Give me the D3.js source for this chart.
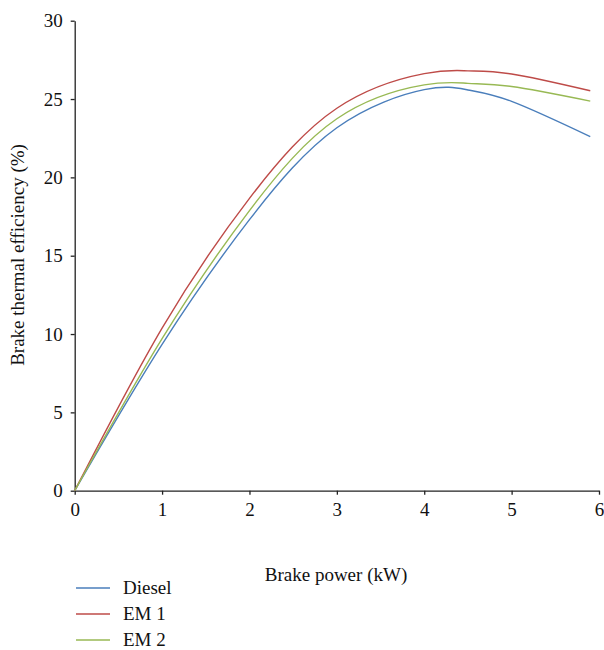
<!DOCTYPE html>
<html><head><meta charset="utf-8">
<script src="https://cdn.jsdelivr.net/npm/d3@7"></script>
<style>body{margin:0;background:#fff}svg{display:block}</style>
</head><body>
<svg id="c" width="604" height="650"></svg>
<script>
const powerKW = [0, 1, 2, 3, 4, 4.5, 5, 5.9];
const diesel = [0, 9.34, 17.3, 23.17, 25.6, 25.58, 24.85, 22.6];
const em1    = [0, 10.38, 18.66, 24.41, 26.62, 26.8, 26.6, 25.53];
const em2    = [0, 9.7, 17.88, 23.74, 25.9, 26.0, 25.8, 24.87];
const seriesNames = ["Diesel", "EM 1", "EM 2"];
const seriesColors = ["#4a7ebb", "#be4b48", "#98b954"];
const xTicks = [0, 1, 2, 3, 4, 5, 6];
const yTicks = [0, 5, 10, 15, 20, 25, 30];

const svg = d3.select("#c");
const font = "'Liberation Serif', 'Times New Roman', serif";
const x = d3.scaleLinear().domain([0, 6]).range([74.7, 599]);
const y = d3.scaleLinear().domain([0, 30]).range([490.7, 20.7]);

const xAxis = svg.append("g").attr("transform", "translate(0,490.7)")
  .call(d3.axisBottom(x).tickValues(xTicks).tickFormat(d3.format("d")).tickSize(4).tickSizeOuter(0).tickPadding(8));
const yAxis = svg.append("g").attr("transform", "translate(74.7,0)")
  .call(d3.axisLeft(y).tickValues(yTicks).tickFormat(d3.format("d")).tickSize(4).tickSizeOuter(0).tickPadding(8));
[xAxis, yAxis].forEach(a => {
  a.selectAll("path, line").attr("stroke", "#222").attr("stroke-width", 1.3);
  a.selectAll("text").attr("font-family", font).attr("font-size", 19).attr("fill", "#111");
});

const all = [diesel, em1, em2];
const line = d3.line().x((d, i) => x(powerKW[i])).y(d => y(d)).curve(d3.curveNatural);
all.forEach((s, k) => {
  svg.append("path").datum(s).attr("d", line).attr("fill", "none")
    .attr("stroke", seriesColors[k]).attr("stroke-width", 1.4);
});

svg.append("text").attr("x", 336).attr("y", 581).attr("text-anchor", "middle")
  .attr("font-family", font).attr("font-size", 19).attr("fill", "#111").text("Brake power (kW)");
svg.append("text").attr("transform", "translate(24,255) rotate(-90)").attr("text-anchor", "middle")
  .attr("font-family", font).attr("font-size", 19).attr("fill", "#111").text("Brake thermal efficiency (%)");

const legY = [588, 614, 640];
seriesNames.forEach((n, k) => {
  svg.append("line").attr("x1", 76).attr("x2", 110).attr("y1", legY[k]).attr("y2", legY[k])
    .attr("stroke", seriesColors[k]).attr("stroke-width", 1.4);
  svg.append("text").attr("x", 123).attr("y", legY[k] + 6).attr("font-family", font)
    .attr("font-size", 19).attr("fill", "#111").text(n);
});
</script>
</body></html>
